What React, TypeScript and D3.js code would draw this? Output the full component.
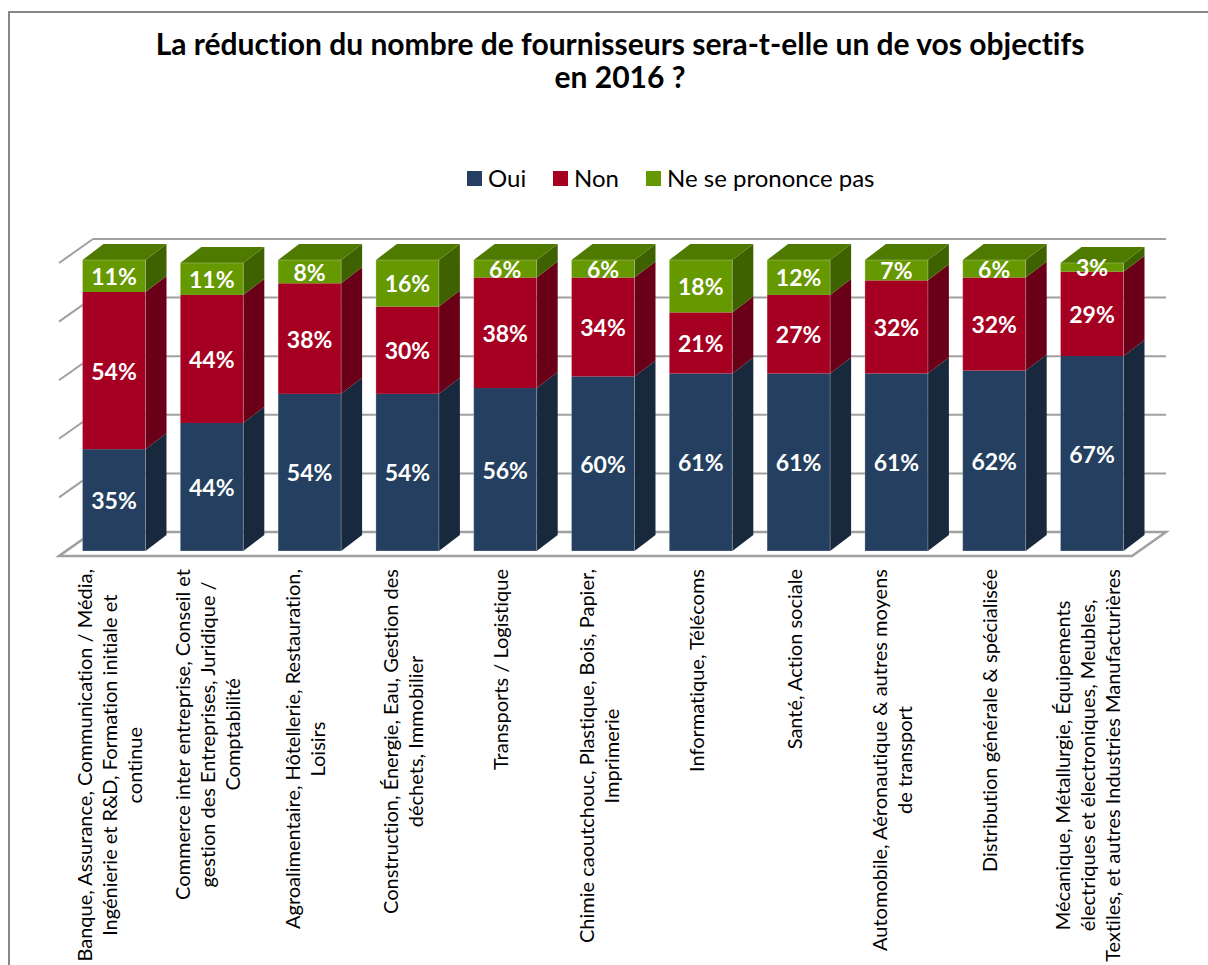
import React, { useEffect, useRef } from 'react';
import * as d3 from 'd3';

// categories (line breaks as in the original axis labels)
const categories: string[][] = [
  ['Banque, Assurance, Communication / Média,', 'Ingénierie et R&D, Formation initiale et', 'continue'],
  ['Commerce inter entreprise, Conseil et', 'gestion des Entreprises, Juridique /', 'Comptabilité'],
  ['Agroalimentaire, Hôtellerie, Restauration,', 'Loisirs'],
  ['Construction, Énergie, Eau, Gestion des', 'déchets, Immobilier'],
  ['Transports / Logistique'],
  ['Chimie caoutchouc, Plastique, Bois, Papier,', 'Imprimerie'],
  ['Informatique, Télécoms'],
  ['Santé, Action sociale'],
  ['Automobile, Aéronautique & autres moyens', 'de transport'],
  ['Distribution générale & spécialisée'],
  ['Mécanique, Métallurgie, Équipements', 'électriques et électroniques, Meubles,', 'Textiles, et autres Industries Manufacturières'],
];

const oui = [35, 44, 54, 54, 56, 60, 61, 61, 61, 62, 67];
const non = [54, 44, 38, 30, 38, 34, 21, 27, 32, 32, 29];
const nsp = [11, 11, 8, 16, 6, 6, 18, 12, 7, 6, 3];

const seriesNames = ['Oui', 'Non', 'Ne se prononce pas'];
const gridTicks = [0, 20, 40, 60, 80, 100];

const colors = [
  { front: '#243f60', side: '#18283d', top: '#1e3450' },
  { front: '#a50021', side: '#6a0017', top: '#82001a' },
  { front: '#669900', side: '#3f6200', top: '#4f7a00' },
];

const W = 1208;
const H = 965;
const FONT = 'Lato, "Open Sans", sans-serif';

const App = () => {
  const ref = useRef<SVGSVGElement>(null);

  useEffect(() => {
    const svg = d3.select(ref.current);
    svg.selectAll('*').remove();

    // chart border
    svg.append('rect')
      .attr('x', 9).attr('y', 12)
      .attr('width', W + 20).attr('height', H + 20)
      .attr('fill', '#fff')
      .attr('stroke', '#868686')
      .attr('stroke-width', 2);

    // title
    const title = svg.append('text')
      .attr('text-anchor', 'middle')
      .attr('font-family', FONT)
      .attr('font-weight', 'bold')
      .attr('font-size', 30)
      .style('font-variant-ligatures', 'none')
      .attr('fill', '#000');
    title.append('tspan').attr('x', 620).attr('y', 55)
      .text('La réduction du nombre de fournisseurs sera-t-elle un de vos objectifs');
    title.append('tspan').attr('x', 620).attr('y', 88).text('en 2016 ?');

    // legend
    const legendX = [467, 553, 646];
    seriesNames.forEach((name, i) => {
      svg.append('rect')
        .attr('x', legendX[i]).attr('y', 171)
        .attr('width', 15).attr('height', 15)
        .attr('fill', colors[i].front);
      svg.append('text')
        .attr('x', legendX[i] + 21).attr('y', 187)
        .attr('font-family', FONT)
        .attr('font-size', 24)
        .attr('fill', '#000')
        .text(name);
    });

    // 3D geometry
    const wallLeft = 93;
    const wallRight = 1166;
    const depth = { dx: -34, dy: 24 };
    const barDepth = { dx: 21, dy: -16 };
    const yBack = d3.scaleLinear().domain([0, 100]).range([532, 239]);
    const yFront = d3.scaleLinear().domain([0, 100]).range([551, 260]);
    const x = d3.scalePoint<number>()
      .domain(d3.range(categories.length))
      .range([114, 1092]);
    const barW = 63;
    const gridColor = '#a0a0a0';

    // floor
    svg.append('polygon')
      .attr('points', [
        [wallLeft, yBack(0)],
        [wallRight, yBack(0)],
        [wallRight + depth.dx, yBack(0) + depth.dy],
        [wallLeft + depth.dx, yBack(0) + depth.dy],
      ].map(p => p.join(',')).join(' '))
      .attr('fill', '#fff')
      .attr('stroke', gridColor)
      .attr('stroke-width', 2.5);

    // back wall gridlines + side wall lines
    gridTicks.slice(1).forEach(t => {
      svg.append('line')
        .attr('x1', wallLeft).attr('x2', wallRight)
        .attr('y1', yBack(t)).attr('y2', yBack(t))
        .attr('stroke', gridColor).attr('stroke-width', 2);
    });
    gridTicks.forEach(t => {
      svg.append('line')
        .attr('x1', wallLeft).attr('y1', yBack(t))
        .attr('x2', wallLeft + depth.dx).attr('y2', yBack(t) + depth.dy)
        .attr('stroke', gridColor).attr('stroke-width', 2);
    });

    // stacked bars
    const stacked = categories.map((_, i) => {
      const vals = [oui[i], non[i], nsp[i]];
      let acc = 0;
      return vals.map((v, s) => {
        const seg = { s, v, y0: acc, y1: acc + v };
        acc += v;
        return seg;
      });
    });

    stacked.forEach((segs, i) => {
      const x0 = (x(i) as number) - barW / 2;
      const x1 = x0 + barW;
      const g = svg.append('g');
      segs.forEach((seg, k) => {
        const yt = yFront(seg.y1);
        const yb = yFront(seg.y0);
        g.append('rect')
          .attr('x', x0).attr('y', yt)
          .attr('width', barW).attr('height', yb - yt)
          .attr('fill', colors[seg.s].front);
        g.append('polygon')
          .attr('points', [
            [x1, yt], [x1 + barDepth.dx, yt + barDepth.dy],
            [x1 + barDepth.dx, yb + barDepth.dy], [x1, yb],
          ].map(p => p.join(',')).join(' '))
          .attr('fill', colors[seg.s].side);
        if (k === segs.length - 1) {
          g.append('polygon')
            .attr('points', [
              [x0, yt], [x1, yt],
              [x1 + barDepth.dx, yt + barDepth.dy], [x0 + barDepth.dx, yt + barDepth.dy],
            ].map(p => p.join(',')).join(' '))
            .attr('fill', colors[seg.s].top);
        }
      });
      // faint outline on the front face
      g.append('rect')
        .attr('x', x0).attr('y', yFront(segs[segs.length - 1].y1))
        .attr('width', barW).attr('height', yFront(0) - yFront(segs[segs.length - 1].y1))
        .attr('fill', 'none')
        .attr('stroke', 'rgba(255,255,255,0.25)')
        .attr('stroke-width', 1);
      segs.forEach(seg => {
        g.append('text')
          .attr('x', x(i) as number)
          .attr('y', (yFront(seg.y0) + yFront(seg.y1)) / 2)
          .attr('text-anchor', 'middle')
          .attr('dominant-baseline', 'central')
          .attr('font-family', FONT)
          .attr('font-weight', 'bold')
          .attr('font-size', 23)
          .attr('fill', '#fff')
          .text(`${seg.v}%`);
      });
    });

    // category labels, rotated, top aligned, lines centred on each other
    const lineGap = 25;
    const labelTop = 569;
    categories.forEach((lines, i) => {
      const g = svg.append('g');
      const texts = lines.map(line =>
        g.append('text')
          .attr('text-anchor', 'middle')
          .attr('dominant-baseline', 'central')
          .attr('font-family', FONT)
          .attr('font-size', 20)
          .style('font-variant-ligatures', 'none')
          .attr('fill', '#000')
          .text(line)
      );
      const maxW = d3.max(texts, t => (t.node() as SVGTextElement).getComputedTextLength()) || 0;
      const cx = (x(i) as number) - 5;
      const cy = labelTop + maxW / 2;
      texts.forEach((t, k) => {
        const lx = cx + (k - (lines.length - 1) / 2) * lineGap;
        t.attr('transform', `translate(${lx},${cy}) rotate(-90)`);
      });
    });
  }, []);

  return (
    <svg
      ref={ref}
      width={W}
      height={H}
      style={{ position: 'absolute', left: 0, top: 0, overflow: 'hidden', background: '#fff' }}
    />
  );
};

export default App;
